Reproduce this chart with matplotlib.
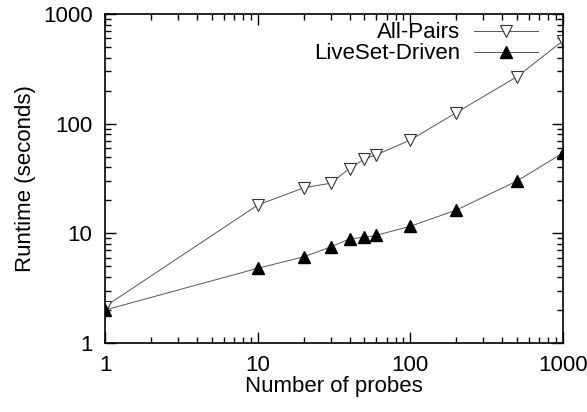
import numpy as np
import matplotlib.pyplot as plt

plt.rcParams['font.family'] = ['Liberation Sans', 'DejaVu Sans']

probes = [1, 10, 20, 30, 40, 50, 60, 100, 200, 500, 1000]
all_pairs = [2.15, 18.1, 26, 28.6, 39, 47.6, 52, 71, 126, 268, 570]
liveset = [2.0, 4.8, 6.1, 7.5, 8.9, 9.2, 9.6, 11.6, 16.3, 30, 54]

fig = plt.figure(figsize=(5.87, 4.12), dpi=100)
ax = fig.add_axes([0.179, 0.1675, 0.78, 0.7985])

ax.plot(probes, all_pairs, color='#555555', lw=0.7, marker='v', markersize=8.5,
        markerfacecolor='white', markeredgecolor='#333333', markeredgewidth=0.8,
        label='All-Pairs')
ax.plot(probes, liveset, color='#555555', lw=0.7, marker='^', markersize=8.5,
        markerfacecolor='black', markeredgecolor='black',
        label='LiveSet-Driven')

ax.set_xscale('log')
ax.set_yscale('log')
ax.set_xlim(1, 1000)
ax.set_ylim(1, 1000)
ax.set_xticks([1, 10, 100, 1000])
ax.set_xticklabels(['1', '10', '100', '1000'])
ax.set_yticks([1, 10, 100, 1000])
ax.set_yticklabels(['1', '10', '100', '1000'])
ax.tick_params(which='both', direction='in', top=True, right=True, labelsize=16, width=1)
ax.tick_params(which='major', length=8, pad=9)
ax.tick_params(which='minor', length=4)
for s in ax.spines.values():
    s.set_linewidth(1.2)

ax.set_xlabel('Number of probes', fontsize=16, labelpad=0)
ax.set_ylabel('Runtime (seconds)', fontsize=16, labelpad=5)

ax.legend(loc='upper right', frameon=False, markerfirst=False, fontsize=16,
          handlelength=2.9, handletextpad=0.6, borderaxespad=0.2,
          labelspacing=0.0, bbox_to_anchor=(0.975, 1.015))

fig.savefig('out.png', dpi=100)
